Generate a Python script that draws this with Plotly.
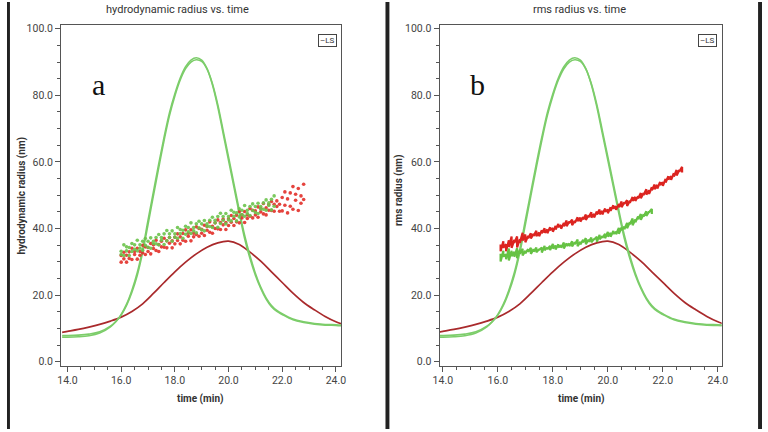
import plotly.graph_objects as go

# ---------------- LS detector traces (same in both panels) ----------------
t_ls = [13.8, 14.0, 14.4, 14.8, 15.2, 15.6, 15.8, 16.0, 16.2, 16.4, 16.6, 16.8, 17.0, 17.2, 17.4,
        17.6, 17.8, 18.0, 18.2, 18.4, 18.6, 18.8, 19.0, 19.2, 19.4, 19.6, 19.8, 20.0, 20.2, 20.4,
        20.6, 20.8, 21.0, 21.2, 21.4, 21.6, 21.8, 22.0, 22.4, 22.8, 23.2, 23.6, 24.0, 24.2]
ls_green_1 = [7.4, 7.4, 7.5, 7.8, 8.6, 10.5, 12.0, 14.2, 17.3, 21.5, 26.8, 33.8, 42.5, 51.0, 59.5,
              67.5, 74.8, 80.5, 85.2, 88.6, 90.6, 91.3, 90.6, 88.0, 83.2, 76.5, 68.5, 60.5, 52.5, 44.5,
              37.0, 31.0, 26.0, 22.0, 18.8, 16.5, 15.1, 14.2, 12.6, 11.8, 11.3, 11.0, 10.9, 10.8]
ls_green_2 = [7.9, 7.9, 8.0, 8.3, 9.0, 10.7, 12.1, 14.0, 16.9, 20.9, 26.0, 32.8, 41.2, 49.8, 58.3,
              66.5, 73.9, 79.8, 84.6, 88.0, 90.0, 90.7, 90.2, 87.9, 83.5, 77.2, 69.4, 61.5, 53.5, 45.5,
              38.0, 31.8, 26.6, 22.4, 19.2, 16.9, 15.4, 14.4, 12.8, 12.0, 11.5, 11.2, 11.1, 11.0]
t_ls_red = [13.8, 14.0, 14.4, 14.8, 15.2, 15.6, 16.0, 16.4, 16.8, 17.2, 17.6, 18.0, 18.4, 18.8,
            19.2, 19.6, 20.0, 20.4, 20.8, 21.2, 21.6, 22.0, 22.4, 22.8, 23.2, 23.6, 24.0, 24.2]
ls_red = [8.8, 9.1, 9.7, 10.4, 11.2, 12.2, 13.4, 15.1, 17.4, 20.5, 23.8, 27.0, 29.9, 32.4,
          34.4, 35.7, 36.2, 35.2, 32.9, 30.2, 27.0, 23.8, 20.6, 17.8, 15.6, 13.6, 12.0, 11.4]

# ---------------- panel a: hydrodynamic radius points ----------------
t_a_red = [16.0, 16.1, 16.2, 16.3, 16.4, 16.5, 16.6, 16.7, 16.8, 16.9, 17.0, 17.1, 17.2, 17.3, 17.4,
           17.5, 17.6, 17.7, 17.8, 17.9, 18.0, 18.1, 18.2, 18.3, 18.4, 18.5, 18.6, 18.7, 18.8, 18.9,
           19.0, 19.1, 19.2, 19.3, 19.4, 19.5, 19.6, 19.7, 19.8, 19.9, 20.0, 20.1, 20.2, 20.3, 20.4,
           20.5, 20.6, 20.7, 20.8, 20.9, 21.0, 21.1, 21.2, 21.3, 21.4, 21.5, 21.6, 21.7, 21.8, 21.9,
           22.0, 22.1, 22.2, 22.3, 22.4, 22.5, 22.6, 22.7, 22.8]
rh_red_hi = [31.9, 32.9, 32.0, 33.0, 34.1, 33.1, 34.1, 33.1, 35.0, 34.5, 34.3, 35.5, 35.1, 36.5, 35.2,
             36.2, 37.1, 36.3, 37.3, 36.3, 37.4, 38.4, 37.5, 38.5, 39.6, 38.6, 39.6, 38.6, 40.5, 40.0,
             39.8, 41.0, 40.6, 42.0, 40.7, 41.7, 42.6, 41.8, 42.8, 41.8, 42.9, 43.9, 43.0, 44.0, 45.1,
             44.1, 45.1, 44.1, 46.0, 45.5, 45.3, 46.5, 46.1, 47.5, 46.2, 47.2, 48.1, 47.3, 48.3, 47.3,
             49.3, 51.0, 48.9, 50.7, 52.6, 50.3, 52.0, 49.8, 53.3]
rh_red_lo = [29.9, 30.9, 29.9, 31.0, 30.7, 32.2, 30.8, 32.0, 32.7, 32.2, 33.1, 32.4, 34.0, 33.4, 33.1,
             34.5, 34.4, 34.2, 35.6, 34.2, 35.4, 36.4, 35.4, 36.5, 36.2, 37.7, 36.3, 37.5, 38.2, 37.7,
             38.6, 37.9, 39.5, 38.9, 38.6, 40.0, 39.9, 39.7, 41.1, 39.7, 40.9, 41.9, 40.9, 42.0, 41.7,
             43.2, 41.8, 43.0, 43.7, 43.2, 44.1, 43.4, 45.0, 44.4, 44.1, 45.5, 45.4, 45.2, 46.6, 45.2,
             45.3, 47.0, 44.7, 46.7, 45.8, 48.5, 45.4, 47.6, 48.7]
t_a_green = [16.0, 16.1, 16.2, 16.3, 16.4, 16.5, 16.6, 16.7, 16.8, 16.9, 17.0, 17.1, 17.2, 17.3, 17.4,
             17.5, 17.6, 17.7, 17.8, 17.9, 18.0, 18.1, 18.2, 18.3, 18.4, 18.5, 18.6, 18.7, 18.8, 18.9,
             19.0, 19.1, 19.2, 19.3, 19.4, 19.5, 19.6, 19.7, 19.8, 19.9, 20.0, 20.1, 20.2, 20.3, 20.4,
             20.5, 20.6, 20.7, 20.8, 20.9, 21.0, 21.1, 21.2, 21.3, 21.4, 21.5, 21.6, 21.7]
rh_green_hi = [33.2, 35.1, 34.5, 34.3, 35.5, 35.1, 36.5, 35.1, 36.2, 37.0, 36.2, 37.2, 36.2, 37.3, 38.2,
               37.3, 38.4, 39.4, 38.4, 39.3, 38.4, 40.3, 39.7, 39.5, 40.7, 40.3, 41.7, 40.3, 41.4, 42.2,
               41.4, 42.4, 41.4, 42.5, 43.4, 42.5, 43.6, 44.6, 43.6, 44.5, 43.6, 45.5, 44.9, 44.7, 45.9,
               45.5, 46.9, 45.5, 46.6, 47.4, 46.6, 47.6, 46.6, 47.7, 48.6, 47.7, 48.8, 49.8]
rh_green_lo = [32.2, 31.9, 33.3, 31.9, 33.1, 33.8, 33.3, 34.1, 33.5, 35.0, 34.4, 34.1, 35.5, 35.4, 35.1,
               36.5, 35.2, 36.3, 37.3, 36.2, 37.4, 37.1, 38.5, 37.1, 38.3, 39.0, 38.5, 39.3, 38.7, 40.2,
               39.6, 39.3, 40.7, 40.6, 40.3, 41.7, 40.4, 41.5, 42.5, 41.4, 42.6, 42.3, 43.7, 42.3, 43.5,
               44.2, 43.7, 44.5, 43.9, 45.4, 44.8, 44.5, 45.9, 45.8, 45.5, 46.9, 45.6, 46.7]

# ---------------- panel b: rms radius points ----------------
t_b_red = [16.1, 16.2, 16.3, 16.4, 16.5, 16.6, 16.7, 16.8, 16.9, 17.0, 17.1, 17.2, 17.3, 17.4, 17.5,
           17.6, 17.7, 17.8, 17.9, 18.0, 18.1, 18.2, 18.3, 18.4, 18.5, 18.6, 18.7, 18.8, 18.9, 19.0,
           19.1, 19.2, 19.3, 19.4, 19.5, 19.6, 19.7, 19.8, 19.9, 20.0, 20.1, 20.2, 20.3, 20.4, 20.5,
           20.6, 20.7, 20.8, 20.9, 21.0, 21.1, 21.2, 21.3, 21.4, 21.5, 21.6, 21.7, 21.8, 21.9, 22.0,
           22.1, 22.2, 22.3, 22.4, 22.5, 22.6, 22.7]
rms_red_hi = [35.2, 36.2, 35.3, 36.5, 37.6, 36.6, 37.6, 36.8, 38.7, 38.2, 37.8, 38.6, 38.4, 39.3, 38.8,
              39.5, 40.1, 39.7, 40.4, 40.1, 40.8, 41.4, 41.0, 41.7, 42.4, 42.1, 42.7, 42.3, 43.4, 43.3,
              43.4, 44.2, 44.0, 44.9, 44.4, 45.1, 45.7, 45.3, 46.0, 45.7, 46.4, 47.0, 46.7, 47.4, 48.1,
              47.9, 48.5, 48.3, 49.5, 49.5, 49.7, 50.7, 50.7, 51.8, 51.5, 52.4, 53.2, 53.1, 54.0, 53.9,
              54.9, 55.7, 55.7, 56.6, 57.6, 57.6, 58.5]
rms_red_lo = [33.2, 34.2, 33.2, 34.5, 34.2, 35.7, 34.3, 35.7, 36.4, 35.9, 37.1, 37.0, 37.8, 37.7, 37.7,
              38.6, 38.7, 38.6, 39.5, 39.0, 39.7, 40.4, 39.9, 40.7, 40.7, 41.6, 41.0, 41.7, 42.2, 42.1,
              42.7, 42.6, 43.4, 43.3, 43.3, 44.2, 44.3, 44.2, 45.1, 44.6, 45.3, 46.0, 45.6, 46.4, 46.4,
              47.4, 46.8, 47.7, 48.3, 48.3, 49.0, 49.1, 50.1, 50.2, 50.4, 51.5, 51.8, 52.0, 53.1, 52.8,
              53.8, 54.7, 54.6, 55.6, 55.9, 57.1, 56.8]
t_b_green = [16.1, 16.2, 16.3, 16.4, 16.5, 16.6, 16.7, 16.8, 16.9, 17.0, 17.1, 17.2, 17.3, 17.4, 17.5,
             17.6, 17.7, 17.8, 17.9, 18.0, 18.1, 18.2, 18.3, 18.4, 18.5, 18.6, 18.7, 18.8, 18.9, 19.0,
             19.1, 19.2, 19.3, 19.4, 19.5, 19.6, 19.7, 19.8, 19.9, 20.0, 20.1, 20.2, 20.3, 20.4, 20.5,
             20.6, 20.7, 20.8, 20.9, 21.0, 21.1, 21.2, 21.3, 21.4, 21.5, 21.6]
rms_green_hi = [32.4, 33.3, 32.2, 34.0, 33.3, 33.0, 34.1, 33.6, 33.9, 33.3, 33.8, 34.2, 33.8, 34.3, 33.8,
                34.3, 34.8, 34.3, 34.8, 35.4, 34.9, 35.3, 34.9, 35.8, 35.6, 35.5, 36.2, 35.9, 36.7, 36.0,
                36.6, 37.1, 36.7, 37.3, 36.9, 37.5, 38.1, 37.7, 38.4, 39.0, 38.7, 39.3, 39.0, 40.2, 40.3,
                40.6, 41.7, 41.9, 43.0, 42.7, 43.6, 44.4, 44.3, 45.2, 45.1, 45.9]
rms_green_lo = [30.1, 31.6, 30.8, 30.4, 31.7, 31.5, 31.1, 32.4, 31.9, 32.5, 33.0, 32.4, 33.1, 32.9, 33.6,
                32.8, 33.5, 33.8, 33.5, 34.0, 33.7, 34.4, 34.2, 34.0, 34.8, 34.7, 34.6, 35.3, 34.7, 35.2,
                35.8, 35.3, 36.0, 35.9, 36.7, 36.0, 36.8, 37.2, 37.1, 37.6, 37.5, 38.4, 38.3, 38.4, 39.5,
                39.8, 40.1, 41.3, 41.0, 41.9, 42.8, 42.6, 43.6, 43.8, 44.9, 44.4]

# tick labels
x_ticks = [14, 16, 18, 20, 22, 24]
x_tick_text = ["14.0", "16.0", "18.0", "20.0", "22.0", "24.0"]
y_ticks = [0, 20, 40, 60, 80, 100]
y_tick_text = ["0.0", "20.0", "40.0", "60.0", "80.0", "100.0"]

GREEN_LS = "#7ccd6a"
RED_LS = "#a92a2c"
RED_PTS = "#e3302a"
GREEN_PTS = "#6cc44c"
NARROW = "Liberation Sans Narrow, Roboto, Arial Narrow, sans-serif"
TICKFONT = dict(family=NARROW, size=10.5, color="#444444")

fig = go.Figure()


def interleave(t, hi, lo):
    xs, ys = [], []
    for a, b, c in zip(t, hi, lo):
        xs += [a, a]
        ys += [b, c]
    return xs, ys


def add_ls(xa, ya):
    fig.add_trace(go.Scatter(x=t_ls_red, y=ls_red, mode="lines", line=dict(color=RED_LS, width=1.7, shape="spline"),
                             xaxis=xa, yaxis=ya, showlegend=False))
    fig.add_trace(go.Scatter(x=t_ls, y=ls_green_2, mode="lines", line=dict(color=GREEN_LS, width=1.6, shape="spline"),
                             xaxis=xa, yaxis=ya, showlegend=False))
    fig.add_trace(go.Scatter(x=t_ls, y=ls_green_1, mode="lines", line=dict(color=GREEN_LS, width=1.6, shape="spline"),
                             xaxis=xa, yaxis=ya, showlegend=False))


# panel a: scattered points
add_ls("x", "y")
fig.add_trace(go.Scatter(x=t_a_red + t_a_red, y=rh_red_hi + rh_red_lo, mode="markers",
                         marker=dict(color=RED_PTS, size=3.6, line=dict(width=0)), opacity=0.9,
                         xaxis="x", yaxis="y", showlegend=False))
fig.add_trace(go.Scatter(x=t_a_green + t_a_green, y=rh_green_hi + rh_green_lo, mode="markers",
                         marker=dict(color=GREEN_PTS, size=3.6, line=dict(width=0)), opacity=0.9,
                         xaxis="x", yaxis="y", showlegend=False))

# panel b: dense noisy bands
add_ls("x2", "y2")
for t, hi, lo, col in [(t_b_red, rms_red_hi, rms_red_lo, "#dc2420"), (t_b_green, rms_green_hi, rms_green_lo, "#66c244")]:
    xs, ys = interleave(t, hi, lo)
    fig.add_trace(go.Scatter(x=xs, y=ys, mode="lines", line=dict(color=col, width=2.2),
                             xaxis="x2", yaxis="y2", showlegend=False))

W, H = 768, 432
ydom = [1 - 368 / H, 1 - 23 / H]


def xaxis_cfg(dom, rng, anchor):
    return dict(domain=dom, range=rng, anchor=anchor, tickvals=x_ticks, ticktext=x_tick_text, ticks="outside",
                ticklen=5, tickcolor="#555", tickfont=TICKFONT, showgrid=False, zeroline=False, showline=True,
                linecolor="#555", linewidth=1, mirror=True,
                minor=dict(dtick=0.5, ticks="outside", ticklen=3, tickcolor="#555", showgrid=False))


def yaxis_cfg(anchor):
    return dict(domain=ydom, range=[-1.2, 101.2], anchor=anchor, tickvals=y_ticks, ticktext=y_tick_text,
                ticks="outside", ticklen=5, tickcolor="#555", tickfont=TICKFONT, showgrid=False,
                zeroline=False, showline=True, linecolor="#555", linewidth=1, mirror=True,
                minor=dict(dtick=5, ticks="outside", ticklen=3, tickcolor="#555", showgrid=False))


fig.update_layout(
    width=W, height=H, margin=dict(l=0, r=0, t=0, b=0),
    paper_bgcolor="white", plot_bgcolor="white",
    xaxis=xaxis_cfg([55 / W, 340 / W], [13.76, 24.2], "y"),
    yaxis=yaxis_cfg("x"),
    xaxis2=xaxis_cfg([440 / W, 727 / W], [13.88, 24.14], "y2"),
    yaxis2=yaxis_cfg("x2"),
)

ann = []
title_font = dict(family=NARROW, size=11, color="#333")
lab_font = dict(family=NARROW, size=10, color="#333")


def px(x, y):
    return dict(x=x / W, y=1 - y / H, xref="paper", yref="paper", showarrow=False)


ann.append(dict(text="hydrodynamic radius vs. time", font=title_font, xanchor="center", yanchor="middle", **px(173, 8)))
ann.append(dict(text="rms radius vs. time", font=title_font, xanchor="center", yanchor="middle", **px(582, 8)))
ann.append(dict(text="<b>time (min)</b>", font=lab_font, xanchor="center", yanchor="middle", **px(197, 402)))
ann.append(dict(text="<b>time (min)</b>", font=lab_font, xanchor="center", yanchor="middle", **px(584, 402)))
ann.append(dict(text="<b>hydrodynamic radius (nm)</b>", font=lab_font, textangle=-90, xanchor="center",
                yanchor="middle", **px(15, 196)))
ann.append(dict(text="<b>rms radius (nm)</b>", font=lab_font, textangle=-90, xanchor="center",
                yanchor="middle", **px(399, 190)))
for xr, yr, letter in [("x", "y", "a"), ("x2", "y2", "b")]:
    ann.append(dict(text=letter, x=0.135, y=0.825, xref=xr + " domain", yref=yr + " domain", showarrow=False,
                    font=dict(family="Liberation Serif, DejaVu Serif, serif", size=30, color="#111"),
                    xanchor="center", yanchor="middle"))
    ann.append(dict(text="–LS", x=0.985, y=0.955, xref=xr + " domain", yref=yr + " domain", showarrow=False,
                    font=dict(family=NARROW, size=8, color="#333"),
                    xanchor="right", yanchor="middle", bordercolor="#444", borderwidth=1, borderpad=1,
                    bgcolor="white"))
fig.update_layout(annotations=ann)

# outer frame lines of the figure montage
shapes = []
for x0, x1 in [(0, 3), (385, 389), (764, 768)]:
    shapes.append(dict(type="rect", xref="paper", yref="paper", x0=x0 / W, x1=x1 / W, y0=0, y1=1,
                       fillcolor="#222", line=dict(width=0), layer="above"))
fig.update_layout(shapes=shapes)

fig.write_html("out.html")
